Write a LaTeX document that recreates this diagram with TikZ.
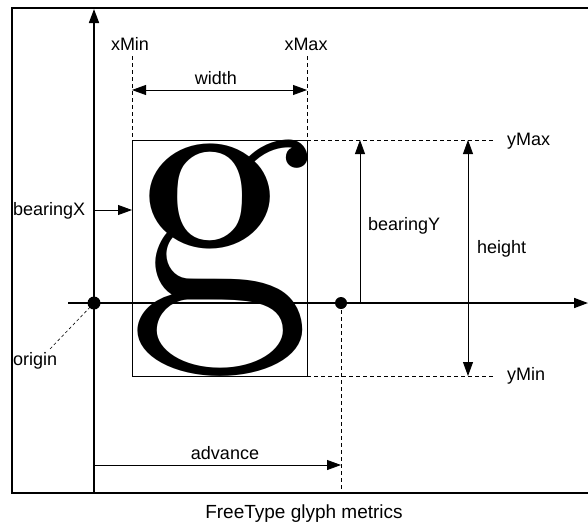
\documentclass[tikz,border=0pt]{standalone}
\usepackage{fontspec}
\usepackage{graphicx}
\setmainfont{Liberation Sans}
\newfontfamily\glyphfont{Latin Modern Roman}
\usetikzlibrary{arrows.meta}
\tikzset{
  % line styles
  frame line/.style={line width=1.3pt},
  axis line/.style={line width=1.6pt},
  thin line/.style={line width=.8pt},
  guide/.style={line width=.8pt,dash pattern=on 4pt off 3pt},
  % arrow tips
  tip/.style={-{Triangle[length=14pt,width=10pt]}},
  both tips/.style={{Triangle[length=14pt,width=10pt]}-{Triangle[length=14pt,width=10pt]}},
  lbl/.style={inner sep=0pt,font=\fontsize{18}{21}\selectfont},
}

\begin{document}
\begin{tikzpicture}[x=1pt,y=-1pt]
\useasboundingbox (0,0) rectangle (588,525);

% key points
\coordinate (origin) at (94,303);
\coordinate (advpt) at (341,303);
\coordinate (boxTL) at (132,140);
\coordinate (boxTR) at (307,140);
\coordinate (boxBL) at (132,376);
\coordinate (boxBR) at (307,376);

% frame, open on the right
\draw[frame line] (588,8) -- (12,8) -- (12,493) -- (588,493);

% axes
\coordinate (yfoot) at (94,493);
\coordinate (ytop) at (94,9);
\coordinate (xfoot) at (68,303);
\coordinate (xend) at (588,303);
\draw[axis line,tip] (yfoot) -- (ytop);
\draw[axis line,tip] (xfoot) -- (xend);

% the glyph and its box
\node[inner sep=0pt,anchor=center] (glyph) at (220,258) {\resizebox*{186pt}{236pt}{\glyphfont g}};
\draw[thin line] (boxTL) rectangle (boxBR);

% dashed guides
\coordinate (xMinTop) at (132,56);
\coordinate (xMaxTop) at (307,56);
\coordinate (yMaxEnd) at (495,140);
\coordinate (yMinEnd) at (493,376);
\coordinate (advFoot) at (341,493);
\draw[guide] (xMinTop) -- (boxTL);
\draw[guide] (xMaxTop) -- (boxTR);
\draw[guide] (boxTR) -- (yMaxEnd);
\draw[guide] (boxBR) -- (yMinEnd);
\draw[guide] (advpt) -- (advFoot);

% dimension arrows
\coordinate (wL) at (132,90);
\coordinate (wR) at (307,90);
\draw[thin line,both tips] (wL) -- (wR);
\coordinate (bxL) at (94,210);
\coordinate (bxR) at (132,210);
\draw[thin line,tip] (bxL) -- (bxR);
\coordinate (byB) at (360,303);
\coordinate (byT) at (360,140);
\draw[thin line,tip] (byB) -- (byT);
\coordinate (hT) at (468,140);
\coordinate (hB) at (468,376);
\draw[thin line,both tips] (hT) -- (hB);
\coordinate (aL) at (94,465);
\coordinate (aR) at (341,465);
\draw[thin line,tip] (aL) -- (aR);

% origin pointer
\coordinate (oTail) at (50,349);
\draw[line width=.6pt,dash pattern=on 3pt off 2.5pt] (origin) -- (oTail);

% dots
\fill (origin) circle (6.5);
\fill (advpt) circle (6);

% labels
\node[lbl] (xMinLbl) at (130,44) {xMin};
\node[lbl] (xMaxLbl) at (306,44) {xMax};
\node[lbl] (widthLbl) at (216,78) {width};
\node[lbl,anchor=west] (bxLbl) at (13,211) {bearingX};
\node[lbl,anchor=west] (byLbl) at (368,226) {bearingY};
\node[lbl,anchor=west] (hLbl) at (477,249) {height};
\node[lbl,anchor=west] (yMaxLbl) at (507,141) {yMax};
\node[lbl,anchor=west] (yMinLbl) at (507,376) {yMin};
\node[lbl,anchor=west] (oLbl) at (13,361) {origin};
\node[lbl] (advLbl) at (225,453) {advance};
\node[inner sep=0pt,font=\fontsize{19}{22}\selectfont] (caption) at (304,514) {FreeType glyph metrics};
\end{tikzpicture}
\end{document}
